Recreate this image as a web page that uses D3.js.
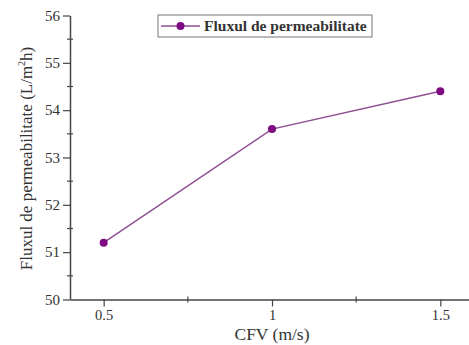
<!DOCTYPE html>
<html>
<head>
<meta charset="utf-8">
<script src="https://cdn.jsdelivr.net/npm/d3@7/dist/d3.min.js"></script>
<style>
  html, body { margin: 0; padding: 0; background: #fff; }
  svg { display: block; }
</style>
</head>
<body>
<script>
// Permeate flux versus cross-flow velocity
const cfv = [0.5, 1, 1.5];
const flux = [51.2, 53.6, 54.4];
const seriesName = "Fluxul de permeabilitate";
const xTicks = [0.5, 1, 1.5];
const xMinorTicks = [0.75, 1.25];
const yTicks = [50, 51, 52, 53, 54, 55, 56];
const yMinorTicks = [50.5, 51.5, 52.5, 53.5, 54.5, 55.5];

const W = 469, H = 345;
const FONT = "'Liberation Serif', 'Times New Roman', serif";
const svg = d3.select("body").append("svg").attr("width", W).attr("height", H);

const x = d3.scaleLinear().domain([0.4, 1.6]).range([70, 474]);
const y = d3.scaleLinear().domain([50, 56]).range([299.5, 15.5]);

const axisColor = "#444";

// Y axis: major ticks outward, minor ticks crossing the line
const gy = svg.append("g").attr("transform", `translate(${x(0.4)},0)`);
gy.call(d3.axisLeft(y).tickValues(yTicks).tickSize(7).tickSizeOuter(0).tickPadding(3).tickFormat(d3.format("d")));
gy.attr("font-family", FONT);
gy.selectAll(".domain").attr("stroke", axisColor).attr("stroke-width", 1.5);
gy.selectAll(".tick line").attr("stroke", axisColor).attr("stroke-width", 1.2);
gy.selectAll(".tick text").attr("font-size", 15).attr("font-family", FONT).attr("fill", "#333");
gy.selectAll(".minor").data(yMinorTicks).enter().append("line")
  .attr("x1", -3).attr("x2", 3)
  .attr("y1", d => y(d)).attr("y2", d => y(d))
  .attr("stroke", axisColor).attr("stroke-width", 1.2);

// X axis
const gx = svg.append("g").attr("transform", `translate(0,${y(50)})`);
gx.call(d3.axisBottom(x).tickValues(xTicks).tickSize(7).tickSizeOuter(0).tickPadding(3).tickFormat(d3.format("")));
gx.attr("font-family", FONT);
gx.selectAll(".domain").attr("stroke", axisColor).attr("stroke-width", 1.5);
gx.selectAll(".tick line").attr("stroke", axisColor).attr("stroke-width", 1.2);
gx.selectAll(".tick text").attr("font-size", 14.5).attr("font-family", FONT).attr("fill", "#333");
gx.selectAll(".minor").data(xMinorTicks).enter().append("line")
  .attr("x1", d => x(d)).attr("x2", d => x(d))
  .attr("y1", -3).attr("y2", 3)
  .attr("stroke", axisColor).attr("stroke-width", 1.2);

// Series line and markers
const pts = cfv.map((v, i) => [v, flux[i]]);
svg.append("path")
  .datum(pts)
  .attr("fill", "none")
  .attr("stroke", "#8f4f93")
  .attr("stroke-width", 1.5)
  .attr("d", d3.line().x(d => x(d[0])).y(d => y(d[1])));
svg.selectAll(".pt").data(pts).enter().append("circle")
  .attr("cx", d => x(d[0])).attr("cy", d => y(d[1]))
  .attr("r", 4).attr("fill", "#7e0a82");

// Legend
const lg = svg.append("g").attr("transform", "translate(158,15)");
lg.append("rect").attr("width", 214).attr("height", 22)
  .attr("fill", "#fff").attr("stroke", "#777").attr("stroke-width", 1);
lg.append("line").attr("x1", 3).attr("x2", 42).attr("y1", 11).attr("y2", 11)
  .attr("stroke", "#8f4f93").attr("stroke-width", 1.5);
lg.append("circle").attr("cx", 22.5).attr("cy", 11).attr("r", 4).attr("fill", "#7e0a82");
lg.append("text").attr("x", 46).attr("y", 16).attr("font-size", 15.5)
  .attr("font-family", FONT).attr("font-weight", "bold").attr("fill", "#333").text(seriesName);

// Axis titles
svg.append("text")
  .attr("x", 272).attr("y", 340)
  .attr("text-anchor", "middle").attr("font-size", 17.5)
  .attr("font-family", FONT).attr("fill", "#333")
  .text("CFV (m/s)");

const yt = svg.append("text")
  .attr("transform", `translate(32,${(y(50) + y(56)) / 2 + 1}) rotate(-90)`)
  .attr("text-anchor", "middle").attr("font-size", 17)
  .attr("font-family", FONT).attr("fill", "#333");
yt.append("tspan").text("Fluxul de permeabilitate (L/m");
yt.append("tspan").attr("font-size", 10).attr("dy", -7).text("2");
yt.append("tspan").attr("dy", 7).text("h)");
</script>
</body>
</html>
